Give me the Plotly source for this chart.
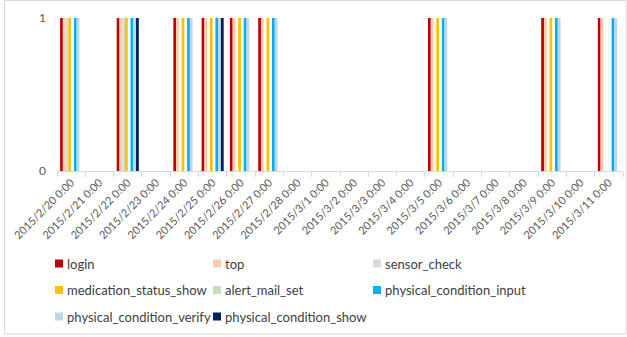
import plotly.graph_objects as go

# Daily usage flags (1 = the screen/action was used that day)
dates = [
    "2015/2/20 0:00", "2015/2/21 0:00", "2015/2/22 0:00", "2015/2/23 0:00",
    "2015/2/24 0:00", "2015/2/25 0:00", "2015/2/26 0:00", "2015/2/27 0:00",
    "2015/2/28 0:00", "2015/3/1 0:00", "2015/3/2 0:00", "2015/3/3 0:00",
    "2015/3/4 0:00", "2015/3/5 0:00", "2015/3/6 0:00", "2015/3/7 0:00",
    "2015/3/8 0:00", "2015/3/9 0:00", "2015/3/10 0:00", "2015/3/11 0:00",
]

login                       = [1, 0, 1, 0, 1, 1, 1, 1, 0, 0, 0, 0, 0, 1, 0, 0, 0, 1, 0, 1]
top                         = [1, 0, 1, 0, 1, 1, 1, 1, 0, 0, 0, 0, 0, 1, 0, 0, 0, 1, 0, 1]
sensor_check                = [1, 0, 1, 0, 0, 0, 0, 0, 0, 0, 0, 0, 0, 0, 0, 0, 0, 0, 0, 0]
medication_status_show      = [1, 0, 1, 0, 1, 1, 1, 1, 0, 0, 0, 0, 0, 1, 0, 0, 0, 1, 0, 0]
alert_mail_set              = [0, 0, 0, 0, 0, 0, 0, 0, 0, 0, 0, 0, 0, 0, 0, 0, 0, 0, 0, 0]
physical_condition_input    = [1, 0, 1, 0, 1, 1, 1, 1, 0, 0, 0, 0, 0, 1, 0, 0, 0, 1, 0, 1]
physical_condition_verify   = [1, 0, 1, 0, 1, 1, 1, 1, 0, 0, 0, 0, 0, 1, 0, 0, 0, 1, 0, 1]
physical_condition_show     = [0, 0, 1, 0, 0, 1, 0, 0, 0, 0, 0, 0, 0, 0, 0, 0, 0, 0, 0, 0]

series_names = ["login", "top", "sensor_check", "medication_status_show",
                "alert_mail_set", "physical_condition_input",
                "physical_condition_verify", "physical_condition_show"]
series_values = [login, top, sensor_check, medication_status_show,
                 alert_mail_set, physical_condition_input,
                 physical_condition_verify, physical_condition_show]
series_colors = ["#C00000", "#F8CBAD", "#D9D9D9", "#FFC000",
                 "#C5E0B4", "#00B0F0", "#BDD7EE", "#002060"]

W, H = 627, 337
L, R, T, B = 57, 4, 18, 166
pw, ph = W - L - R, H - T - B


def px_x(p):
    return (p - L) / pw


def px_y(p):
    return (H - B - p) / ph


fig = go.Figure()
for name, vals, color in zip(series_names, series_values, series_colors):
    fig.add_trace(go.Bar(
        x=dates, y=vals, name=name,
        marker=dict(color=color, line=dict(width=0)),
        showlegend=False,
    ))

# Legend laid out as a 3-column grid below the chart
col_x = [55, 213, 373]
row_y = [263.5, 290, 316.5]
shapes = []
annotations = []
for i, (name, color) in enumerate(zip(series_names, series_colors)):
    cx = col_x[i % 3]
    cy = row_y[i // 3]
    shapes.append(dict(
        type="rect", xref="paper", yref="paper",
        x0=px_x(cx), x1=px_x(cx + 8), y0=px_y(cy + 4), y1=px_y(cy - 4),
        fillcolor=color, line=dict(width=0),
    ))
    annotations.append(dict(
        text=name, xref="paper", yref="paper",
        x=px_x(cx + 10), y=px_y(cy), xanchor="left", yanchor="middle",
        showarrow=False, font=dict(family="Lato", size=13, color="#404040"),
    ))

# Outer chart frame
shapes.append(dict(
    type="rect", xref="paper", yref="paper",
    x0=px_x(4.5), x1=px_x(626), y0=px_y(334), y1=px_y(0.5),
    line=dict(color="#D9D9D9", width=1), layer="below",
))

fig.update_layout(
    width=W, height=H,
    margin=dict(l=L, r=R, t=T, b=B),
    paper_bgcolor="white", plot_bgcolor="white",
    barmode="group", bargap=0.22, bargroupgap=0,
    font=dict(family="Lato", color="#595959"),
    showlegend=False,
    xaxis=dict(
        type="category", tickangle=-45, tickfont=dict(size=11, color="#595959"),
        showline=True, linecolor="#D9D9D9", linewidth=1,
        ticks="outside", tickson="boundaries", ticklen=5, tickcolor="#D9D9D9",
        showgrid=False,
    ),
    yaxis=dict(
        range=[0, 1], tickvals=[0, 1], ticktext=["0", "1"],
        tickfont=dict(size=12, color="#595959"),
        showgrid=True, gridcolor="#D9D9D9", gridwidth=1, zeroline=False,
        showline=False, ticks="", ticklabelstandoff=10,
    ),
    shapes=shapes,
    annotations=annotations,
)

fig.write_html("out.html")
